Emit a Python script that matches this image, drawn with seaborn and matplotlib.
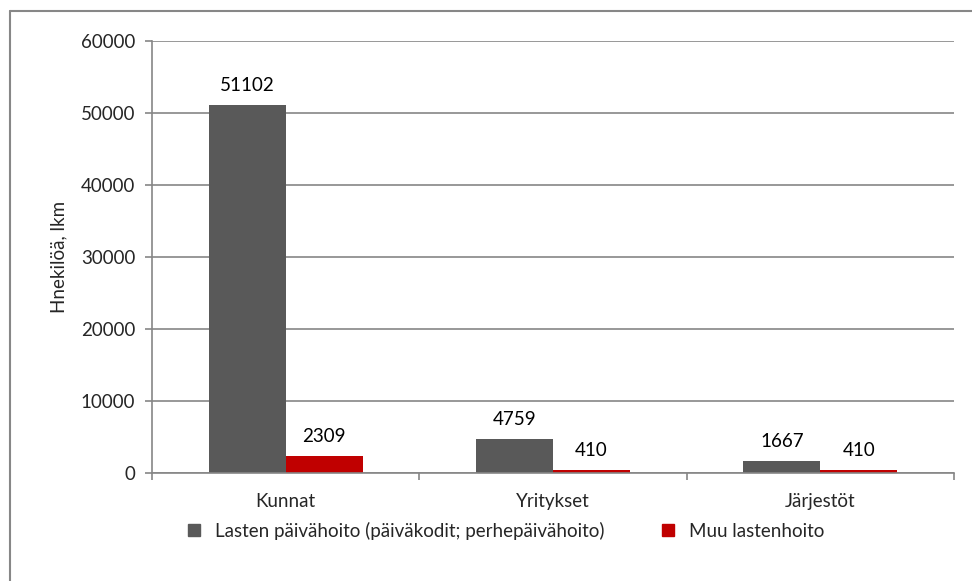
import matplotlib
matplotlib.use("Agg")
import matplotlib.pyplot as plt
import seaborn as sns
import pandas as pd
from matplotlib.lines import Line2D

# Données
categories = ["Kunnat", "Yritykset", "Järjestöt"]
series = ["Lasten päivähoito (päiväkodit; perhepäivähoito)", "Muu lastenhoito"]
paivahoito = [51102, 4759, 1667]
muu = [2309, 410, 410]
colors = ["#595959", "#C00000"]

df = pd.DataFrame({
    "cat": categories * 2,
    "sarja": [series[0]] * 3 + [series[1]] * 3,
    "arvo": paivahoito + muu,
})

sns.set_style("white")
plt.rcParams["font.family"] = ["Lato", "DejaVu Sans"]
fs = 13.5

fig = plt.figure(figsize=(9.72, 5.81), dpi=100)
ax = fig.add_axes([152 / 972, 1 - 473 / 581, (954 - 152) / 972, (473 - 41) / 581])

sns.barplot(data=df, x="cat", y="arvo", hue="sarja", palette=colors,
            width=0.575, saturation=1, linewidth=0, ax=ax, legend=True)

for cont in ax.containers:
    ax.bar_label(cont, padding=8, fontsize=fs, color="#000000")

ax.set_ylim(0, 60000)
ax.set_xlim(-0.5, 2.5)
ax.set_yticks(range(0, 60001, 10000))
ax.yaxis.grid(True, color="#868686", linewidth=1.2)
ax.set_axisbelow(True)
for s in ["top", "right"]:
    ax.spines[s].set_visible(False)
for s in ["left", "bottom"]:
    ax.spines[s].set_color("#868686")
    ax.spines[s].set_linewidth(1.2)

# ticks on y, boundaries on x
ax.tick_params(axis="y", left=True, length=5, width=1.2, color="#868686", labelsize=fs, pad=7)
ax.set_xticks([0, 1, 2])
ax.set_xticklabels(categories)
ax.set_xticks([-0.5, 0.5, 1.5, 2.5], minor=True)
ax.tick_params(axis="x", which="major", bottom=False, labelsize=fs, pad=11)
ax.tick_params(axis="x", which="minor", bottom=True, length=5, width=1.2, color="#868686")
ax.set_xlabel("")
ax.set_ylabel("Hnekilöä, lkm", fontsize=fs, labelpad=10)

handles = [Line2D([], [], marker="s", linestyle="", markersize=9, color=c) for c in colors]
ax.legend(handles, series, loc="center", bbox_to_anchor=(500 / 972, 1 - 531 / 581),
          bbox_transform=fig.transFigure, ncol=2, frameon=False, fontsize=fs,
          handletextpad=0.1, columnspacing=2.4)

# cadre gris (gauche et haut)
fig.add_artist(Line2D([10 / 972, 10 / 972], [0, 1 - 11 / 581], transform=fig.transFigure,
                      color="#878787", linewidth=1.5))
fig.add_artist(Line2D([10 / 972, 1], [1 - 11 / 581, 1 - 11 / 581], transform=fig.transFigure,
                      color="#878787", linewidth=1.5))

fig.savefig("out.png", dpi=100)
